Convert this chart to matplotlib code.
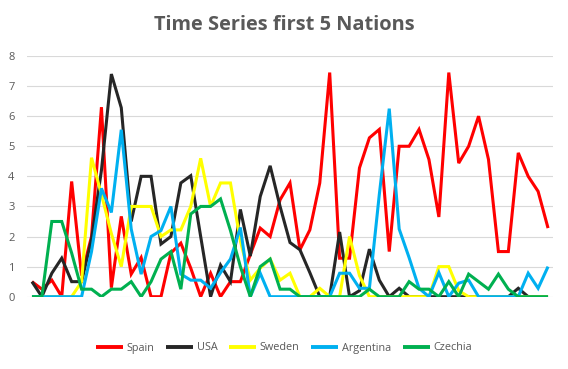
import matplotlib
matplotlib.use("Agg")
import matplotlib.pyplot as plt
import numpy as np

title = "Time Series first 5 Nations"
series_names = ["Spain", "USA", "Sweden", "Argentina", "Czechia"]
colors = ["#FF0000", "#262626", "#FFFF00", "#00B0F0", "#00B050"]

spain = [0.5, 0.25, 0.55, 0, 3.83, 0.7, 2.0, 6.3, 0.3, 2.67, 0.75, 1.3, 0, 0,
         1.45, 1.78, 0.95, 0, 0.78, 0, 0.5, 0.5, 1.4, 2.28, 2.0, 3.22, 3.78,
         1.56, 2.22, 3.78, 7.45, 1.28, 1.28, 4.28, 5.28, 5.56, 1.5, 5.0, 5.0,
         5.56, 4.56, 2.65, 7.45, 4.44, 5.0, 6.0, 4.56, 1.5, 1.5, 4.78, 4.0,
         3.5, 2.28]
usa = [0.5, 0, 0.78, 1.28, 0.5, 0.5, 1.9, 4.2, 7.4, 6.28, 2.5, 4.0, 4.0,
       1.75, 2.0, 3.78, 4.02, 2.0, 0, 1.05, 0.5, 2.9, 1.35, 3.33, 4.35, 3.0,
       1.8, 1.56, 0.8, 0, 0, 2.15, 0, 0.2, 1.58, 0.55, 0, 0.28, 0, 0, 0, 0,
       0, 0, 0, 0, 0, 0, 0, 0.28, 0, 0, 0]
sweden = [0, 0, 0, 0, 0, 0.5, 4.62, 3.4, 2.1, 1.0, 3.0, 3.0, 3.0, 2.0, 2.22,
          2.22, 3.0, 4.6, 3.0, 3.78, 3.78, 1.85, 0.55, 0.95, 1.25, 0.55, 0.78,
          0, 0, 0.28, 0, 0, 2.0, 0.7, 0, 0, 0, 0, 0, 0, 0, 1.0, 1.0, 0.2, 0,
          0, 0, 0, 0, 0, 0, 0, 0]
argentina = [0, 0, 0, 0, 0, 0, 1.5, 3.6, 2.8, 5.55, 2.25, 0.75, 2.0, 2.2,
             3.0, 0.75, 0.55, 0.55, 0.28, 0.8, 1.25, 2.3, 0, 0.78, 0, 0, 0, 0,
             0, 0, 0, 0.78, 0.78, 0.28, 0.28, 3.4, 6.25, 2.25, 1.3, 0.28, 0,
             0.8, 0, 0.45, 0.55, 0, 0, 0, 0, 0, 0.78, 0.28, 1.0]
czechia = [0, 0, 2.5, 2.5, 1.45, 0.25, 0.25, 0, 0.25, 0.25, 0.5, 0, 0.5,
           1.25, 1.5, 0.25, 2.75, 3.0, 3.0, 3.25, 2.2, 1.0, 0, 1.0, 1.25,
           0.25, 0.25, 0, 0, 0, 0, 0, 0, 0, 0.25, 0, 0, 0, 0.5, 0.25, 0.25,
           0, 0.5, 0, 0.75, 0.5, 0.25, 0.75, 0.25, 0, 0, 0, 0]
y_ticks = [0, 1, 2, 3, 4, 5, 6, 7, 8]

data = [spain, usa, sweden, argentina, czechia]

plt.rcParams['font.family'] = ['Open Sans', 'DejaVu Sans']
fig = plt.figure(figsize=(5.68, 3.69), dpi=100)
ax = fig.add_axes([27/568, 1 - 296.7/369, (553-27)/568, (296.7-56)/369])

x = np.arange(len(spain))
for name, vals, c in zip(series_names, data, colors):
    ax.plot(x, vals, color=c, lw=2.2, label=name, solid_joinstyle='miter',
            solid_capstyle='butt')

ax.set_xlim(-0.5, len(spain) - 0.5)
ax.set_ylim(0, 8)
ax.set_yticks(y_ticks)
ax.set_yticklabels([str(t) for t in y_ticks])
ax.set_xticks([])
ax.tick_params(axis='y', length=0, labelsize=8, colors='#595959', pad=9)
ax.grid(axis='y', color='#D9D9D9', lw=0.8)
ax.set_axisbelow(True)
for s in ax.spines.values():
    s.set_visible(False)

fig.text(0.5, 1 - 25/369, title, ha='center', va='center', fontsize=14.4,
         fontweight='bold', color='#595959')

leg = fig.legend(loc='center', bbox_to_anchor=(0.5, 1 - 348/369), ncol=5,
                 frameon=False, fontsize=7.8, handlelength=2.5,
                 handletextpad=0.3, columnspacing=1.1, labelcolor='#595959')
for h in leg.get_lines():
    h.set_linewidth(2.8)

fig.savefig("out.png", dpi=100, facecolor='white')
